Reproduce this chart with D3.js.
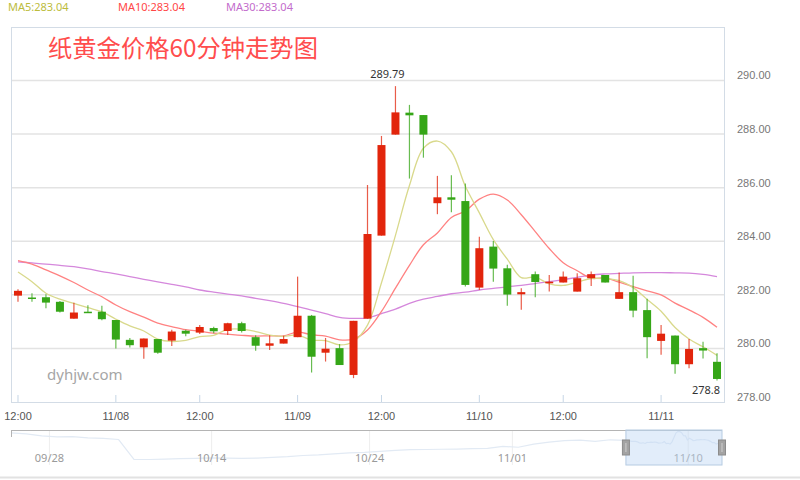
<!DOCTYPE html>
<html><head><meta charset="utf-8">
<script src="https://cdn.jsdelivr.net/npm/d3@7/dist/d3.min.js"></script>
<style>
html,body{margin:0;padding:0;background:#fff;}
svg{display:block;font-family:"Noto Sans","Open Sans",sans-serif;}
</style></head>
<body><svg id="c" width="800" height="480"></svg>
<script>
// ---- data ----
const categories = [
 "11/07 12:00","11/07 14:00","11/07 16:00","11/07 18:00","11/07 20:00","11/07 22:00","11/07 23:00",
 "11/08 00:00","11/08 02:00","11/08 04:00","11/08 08:00","11/08 09:00","11/08 10:00",
 "11/08 12:00","11/08 14:00","11/08 16:00","11/08 18:00","11/08 20:00","11/08 22:00","11/08 23:00",
 "11/09 00:00","11/09 02:00","11/09 04:00","11/09 08:00","11/09 09:00","11/09 10:00",
 "11/09 12:00","11/09 14:00","11/09 16:00","11/09 18:00","11/09 20:00","11/09 22:00","11/09 23:00",
 "11/10 00:00","11/10 02:00","11/10 04:00","11/10 08:00","11/10 09:00","11/10 10:00",
 "11/10 12:00","11/10 14:00","11/10 16:00","11/10 18:00","11/10 20:00","11/10 22:00","11/10 23:00",
 "11/11 00:00","11/11 02:00","11/11 04:00","11/11 08:00","11/11 09:00"];
const tickIndex = [0,7,13,20,26,33,39,46];

const open  = [281.97,281.90,281.91,281.74,281.11,281.37,281.37,281.06,280.32,280.04,280.35,280.29,280.66,280.59,280.76,280.65,280.94,280.42,280.10,280.18,280.42,281.22,279.84,280.01,279.01,281.11,284.21,287.98,288.80,288.71,285.42,285.64,285.50,282.27,283.80,282.99,282.02,282.77,282.43,282.46,282.12,282.62,282.74,281.85,282.10,281.43,280.28,280.48,279.41,280.01,279.50];
const close = [282.15,281.85,281.71,281.37,281.34,281.33,281.09,280.33,280.12,280.37,279.84,280.63,280.55,280.80,280.64,280.94,280.65,280.10,280.19,280.35,281.22,279.69,279.99,279.38,281.03,284.27,287.59,288.81,288.70,287.98,285.64,285.55,282.37,283.74,282.98,282.01,282.10,282.48,282.49,282.68,282.62,282.77,282.46,282.10,281.41,280.42,280.55,279.41,279.98,279.92,278.86];
const high  = [282.21,282.06,282.02,281.77,281.70,281.61,281.59,281.06,280.39,280.37,280.35,280.70,280.70,280.87,280.81,280.96,281.00,280.49,280.49,280.47,282.68,281.25,280.39,280.16,281.03,286.10,287.93,289.79,289.09,288.71,286.44,286.46,286.16,284.17,284.01,283.12,282.25,282.87,282.74,282.87,282.81,282.87,282.74,282.83,282.71,281.85,280.87,280.48,280.35,280.25,279.82];
const low   = [281.74,281.74,281.50,281.34,281.11,281.32,281.05,280.00,280.03,279.61,279.80,280.09,280.45,280.54,280.57,280.50,280.59,279.91,279.94,280.18,280.42,279.10,279.51,279.38,278.89,281.11,284.21,287.98,286.34,287.12,285.01,285.08,282.31,282.18,282.49,281.59,281.44,281.91,282.12,282.46,282.12,282.33,282.46,281.85,281.16,279.63,279.76,279.05,279.26,279.62,278.80];

const ma5  = [282.85,282.49,282.06,281.84,281.68,281.52,281.37,281.09,280.84,280.65,280.35,280.26,280.30,280.44,280.49,280.71,280.72,280.63,280.50,280.45,280.50,280.31,280.29,280.13,280.26,280.87,282.45,284.22,286.08,287.47,287.74,287.34,286.05,285.06,284.06,283.33,282.64,282.66,282.41,282.35,282.47,282.61,282.60,282.53,282.27,281.83,281.39,280.78,280.35,280.06,279.74];
const ma10 = [283.28,283.15,282.93,282.71,282.46,282.18,281.93,281.62,281.37,281.17,280.94,280.81,280.70,280.64,280.57,280.53,280.49,280.46,280.47,280.47,280.61,280.51,280.46,280.32,280.35,280.69,281.38,282.25,283.10,283.87,284.31,284.89,285.13,285.57,285.76,285.54,284.99,284.36,283.73,283.20,282.90,282.62,282.63,282.47,282.31,282.15,282.00,281.69,281.44,281.16,280.79];
const ma30 = [283.23,283.19,283.15,283.10,283.05,282.97,282.87,282.78,282.68,282.58,282.48,282.39,282.30,282.18,282.10,282.03,281.96,281.87,281.78,281.68,281.56,281.43,281.30,281.16,281.12,281.14,281.30,281.47,281.68,281.84,281.94,282.04,282.10,282.18,282.24,282.30,282.35,282.42,282.49,282.57,282.65,282.74,282.78,282.80,282.82,282.83,282.83,282.82,282.81,282.76,282.68];

const legendItems = ["MA5:283.04","MA10:283.04","MA30:283.04"];
const titleText = "纸黄金价格60分钟走势图";
const watermark = "dyhjw.com";
const yTicks = [278,280,282,284,286,288,290];

// navigator: earlier history sampled every 8 hours, then the visible closes (hourly)
const navHistory = [287.8,287.0,285.5,284.8,285.0,284.0,283.6,282.8,267.9,267.8,268.1,268.4,268.7,269.0,268.9,268.6,268.8,269.4,269.9,270.8,271.2,272.0,272.8,273.2,273.9,274.6,275.2,275.3,275.5,275.6,275.9,276.2,277.6,277.0,279.3,280.8,282.0,282.3,281.4,282.6];
const navStep = 8;
const navTickLabels = ["09/28","10/14","10/24","11/01","11/10"];
const navTickHour = [20,104.4,186.6,260.9,352.4];

// ---- drawing ----
const svg = d3.select("#c");
const L = 11, R = 724, T = 27, B = 402;
const UP = "#e2250c", DOWN = "#35a617";

// legend
const legendColors = ["#bcbc3c","#ff4646","#c36ccc"];
const legendX = [8,118,226];
svg.selectAll("text.lg").data(legendItems).join("text")
  .attr("class","lg").attr("x",(d,i)=>legendX[i]).attr("y",11)
  .attr("font-size",11).attr("fill",(d,i)=>legendColors[i]).text(d=>d);

// frame
svg.append("rect").attr("x",L+0.5).attr("y",T+0.5).attr("width",R-L).attr("height",B-T)
  .attr("fill","none").attr("stroke","#d3dce6");

const x = d3.scaleBand().domain(d3.range(categories.length)).range([L,R]).padding(0);
const cx = i => x(i) + x.bandwidth()/2;
const y = d3.scaleLinear().domain([278,290]).range([B,80.5]);

// gridlines
svg.append("g").selectAll("line").data(yTicks.filter(t=>t>278)).join("line")
  .attr("x1",L+1).attr("x2",R).attr("y1",d=>y(d)).attr("y2",d=>y(d))
  .attr("stroke","#e3e3e3").attr("stroke-width",1.5);

// right axis
const yAxis = d3.axisRight(y).tickValues(yTicks).tickSize(0).tickPadding(13).tickFormat(d3.format(".2f"));
const ya = svg.append("g").attr("transform",`translate(${R},0)`).call(yAxis);
ya.select(".domain").remove();
ya.selectAll("text").attr("fill","#777").attr("font-size",11).attr("dy","-0.15em");

// bottom axis
const xAxis = d3.axisBottom(x).tickValues(tickIndex).tickSizeInner(-7).tickSizeOuter(0).tickPadding(10)
  .tickFormat(i => { const [dd,tt] = categories[i].split(" "); return tt==="00:00" ? dd : tt; });
const xa = svg.append("g").attr("transform",`translate(0,${B})`).call(xAxis);
xa.select(".domain").attr("stroke","#d3dce6");
xa.selectAll(".tick line").attr("stroke","#c6d6e6");
xa.selectAll("text").attr("fill","#555").attr("font-size",11);

// watermark
svg.append("text").attr("x",47).attr("y",380).attr("font-size",15).attr("fill","#a6a6a6").text(watermark);

// title
svg.append("text").attr("x",48).attr("y",57).attr("font-size",24.3)
  .attr("font-family","'Noto Sans CJK SC',sans-serif").attr("fill","#ff4d4d").text(titleText);

// MA lines
const line = d3.line().x((d,i)=>cx(i)).y(d=>y(d)).curve(d3.curveCatmullRom.alpha(0.5));
[[ma30,"#d588dc"],[ma10,"#ff8282"],[ma5,"#d9d98c"]].forEach(([arr,col])=>{
  svg.append("path").attr("d",line(arr)).attr("fill","none").attr("stroke",col).attr("stroke-width",1.3);
});

// candles
const idx = d3.range(categories.length);
const bw = 8;
const cg = svg.append("g");
cg.selectAll("line.wick").data(idx).join("line").attr("class","wick")
  .attr("x1",i=>cx(i)).attr("x2",i=>cx(i)).attr("y1",i=>y(high[i])).attr("y2",i=>y(low[i]))
  .attr("stroke",i=> close[i]>=open[i]?UP:DOWN).attr("stroke-opacity",0.75).attr("stroke-width",1.2);
cg.selectAll("rect.body").data(idx).join("rect").attr("class","body")
  .attr("x",i=>cx(i)-bw/2).attr("width",bw)
  .attr("y",i=>y(Math.max(open[i],close[i])))
  .attr("height",i=>Math.max(1.5, Math.abs(y(open[i])-y(close[i]))))
  .attr("fill",i=> close[i]>=open[i]?UP:DOWN);

// max/min marks
const maxI = d3.maxIndex(high), minI = d3.minIndex(low);
svg.append("text").attr("x",cx(maxI)-8).attr("y",y(high[maxI])-8).attr("text-anchor","middle")
  .attr("font-size",11).attr("fill","#333").text(String(high[maxI]));
svg.append("text").attr("x",cx(minI)+3).attr("y",y(low[minI])+13).attr("text-anchor","end")
  .attr("font-size",11).attr("fill","#333").text(String(low[minI]));

// navigator
const NT = 430, NB = 465, NL = 11, NR = 722;
const navData = navHistory.map((v,i)=>({h:i*navStep, v}))
  .concat(close.map((v,i)=>({h:navHistory.length*navStep + i, v})));
const totalH = navHistory.length*navStep + close.length - 1;
const nx = d3.scaleLinear().domain([0,totalH]).range([NL,NR]);
const ny = d3.scaleLinear().domain(d3.extent(navData,d=>d.v)).range([459.5,431.5]);

svg.append("g").selectAll("line").data(navTickHour).join("line")
  .attr("x1",d=>nx(d)).attr("x2",d=>nx(d)).attr("y1",NT).attr("y2",NB).attr("stroke","#eeeeee");
svg.append("path").attr("d",d3.line().x(d=>nx(d.h)).y(d=>ny(d.v))(navData))
  .attr("fill","none").attr("stroke","#e2eaf4").attr("stroke-width",1.2);
svg.append("g").selectAll("text").data(navTickLabels).join("text")
  .attr("x",(d,i)=>nx(navTickHour[i])).attr("y",462).attr("text-anchor","middle")
  .attr("font-size",11).attr("fill","#9a9a9a").text(d=>d);
svg.append("line").attr("x1",NL).attr("x2",NR).attr("y1",NT+0.5).attr("y2",NT+0.5).attr("stroke","#b4b4b4");
svg.append("line").attr("x1",NL+0.5).attr("x2",NL+0.5).attr("y1",NT).attr("y2",NT+7).attr("stroke","#b4b4b4");

const selX0 = nx(navHistory.length*navStep), selX1 = nx(totalH);
svg.append("rect").attr("x",selX0).attr("y",NT).attr("width",selX1-selX0).attr("height",NB-NT)
  .attr("fill","rgba(190,215,245,0.45)").attr("stroke","#b6cbe2");
[selX0, selX1].forEach(hx=>{
  svg.append("rect").attr("x",hx-3.5).attr("y",440).attr("width",7).attr("height",15)
    .attr("fill","#a3a3a3").attr("stroke","#8c8c8c");
  svg.append("line").attr("x1",hx).attr("x2",hx).attr("y1",443).attr("y2",452).attr("stroke","#d0d0d0");
});

// bottom separator
svg.append("line").attr("x1",0).attr("x2",800).attr("y1",477.5).attr("y2",477.5).attr("stroke","#e2e2e2").attr("stroke-width",2);
</script>
</body></html>
